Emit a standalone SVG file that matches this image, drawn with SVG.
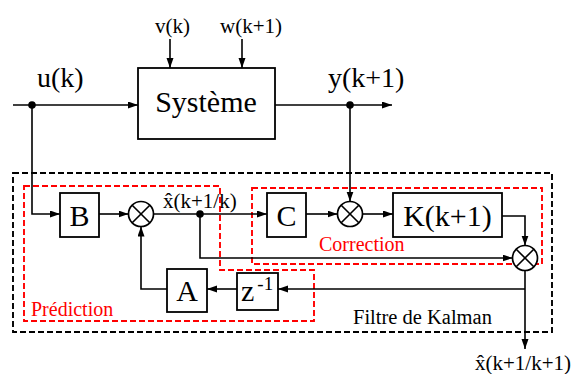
<svg xmlns="http://www.w3.org/2000/svg" width="576" height="374" viewBox="0 0 576 374" font-family="'Liberation Serif', 'DejaVu Serif', serif">
  <defs>
    <marker id="arr" markerUnits="userSpaceOnUse" markerWidth="11" markerHeight="8" refX="10" refY="3.5" orient="auto">
      <path d="M0,0 L10,3.5 L0,7 z" fill="#000"/>
    </marker>
  </defs>
  <style>
    text { font-family: 'Liberation Serif', 'DejaVu Serif', serif; fill: #000; }
    .box { fill: #fff; stroke: #000; stroke-width: 1.8; }
    .wire { fill: none; stroke: #000; stroke-width: 1.6; }
    .sum { fill: #fff; stroke: #000; stroke-width: 1.7; }
    .dot { fill: #000; }
    .big { font-size: 30px; text-anchor: middle; }
    .sig { font-size: 21px; }
    .frame { fill: none; stroke: #000; stroke-width: 1.9; stroke-dasharray: 6 3; }
    .zone { fill: none; stroke: #f00; stroke-width: 1.9; stroke-dasharray: 6 3; }
    .zlabel { font-size: 20px; fill: #f00; }
  </style>

  <rect width="576" height="374" fill="#fff"/>

  <!-- dashed frames -->
  <g id="frames">
    <rect class="frame" x="13" y="173" width="539" height="159"/>
    <path class="zone" d="M24,186 H220 V270 H314 V321 H24 Z"/>
    <rect class="zone" x="252" y="188" width="290" height="76"/>
  </g>

  <!-- connectors -->
  <g id="connectors">
    <path class="wire" d="M170,39 V68" marker-end="url(#arr)"/>
    <path class="wire" d="M242,39 V68" marker-end="url(#arr)"/>
    <path class="wire" d="M13,105 H138" marker-end="url(#arr)"/>
    <path class="wire" d="M275,105 H392" marker-end="url(#arr)"/>
    <path class="wire" d="M32,105 V214 H60" marker-end="url(#arr)"/>
    <path class="wire" d="M99,214 H128.5" marker-end="url(#arr)"/>
    <path class="wire" d="M153.5,214 H267" marker-end="url(#arr)"/>
    <path class="wire" d="M306,214 H337.5" marker-end="url(#arr)"/>
    <path class="wire" d="M350,105 V201.5" marker-end="url(#arr)"/>
    <path class="wire" d="M362.5,214 H393" marker-end="url(#arr)"/>
    <path class="wire" d="M502,216 H525 V245.5" marker-end="url(#arr)"/>
    <path class="wire" d="M200,214 V258 H512.5" marker-end="url(#arr)"/>
    <path class="wire" d="M525,270.5 V349" marker-end="url(#arr)"/>
    <path class="wire" d="M525,289 H278" marker-end="url(#arr)"/>
    <path class="wire" d="M237,289 H207" marker-end="url(#arr)"/>
    <path class="wire" d="M167,289 H141 V226.5" marker-end="url(#arr)"/>
    <circle class="dot" cx="32" cy="105" r="3.8"/>
    <circle class="dot" cx="350" cy="105" r="3.8"/>
    <circle class="dot" cx="200" cy="214" r="3.8"/>
  </g>

  <g id="systeme">
    <rect class="box" x="138" y="68" width="137" height="71"/>
    <text class="big" x="206" y="112">Système</text>
  </g>

  <g id="B">
    <rect class="box" x="60" y="193" width="39" height="44"/>
    <text class="big" x="79.5" y="226">B</text>
  </g>

  <g id="C">
    <rect class="box" x="267" y="193" width="39" height="44"/>
    <text class="big" x="286.5" y="226">C</text>
  </g>

  <g id="K">
    <rect class="box" x="393" y="193" width="109" height="44"/>
    <text class="big" x="447.5" y="226">K(k+1)</text>
  </g>

  <g id="A">
    <rect class="box" x="167" y="269" width="40" height="43"/>
    <text class="big" x="187" y="301">A</text>
  </g>

  <g id="retard">
    <rect class="box" x="237" y="273" width="41" height="37"/>
    <text x="241" y="301" font-size="30">z<tspan font-size="19" dx="3" dy="-11">-1</tspan></text>
  </g>

  <g id="sum1">
    <circle class="sum" cx="141" cy="214" r="12.5"/>
    <path class="wire" d="M132.2,205.2 L149.8,222.8 M149.8,205.2 L132.2,222.8"/>
  </g>

  <g id="sum2">
    <circle class="sum" cx="350" cy="214" r="12.5"/>
    <path class="wire" d="M341.2,205.2 L358.8,222.8 M358.8,205.2 L341.2,222.8"/>
  </g>

  <g id="sum3">
    <circle class="sum" cx="525" cy="258" r="12.5"/>
    <path class="wire" d="M516.2,249.2 L533.8,266.8 M533.8,249.2 L516.2,266.8"/>
  </g>

  <!-- signal labels -->
  <g id="labels">
    <text x="155" y="33" font-size="21">v(k)</text>
    <text x="220" y="33" font-size="21">w(k+1)</text>
    <text x="37" y="87" font-size="28">u(k)</text>
    <text x="328" y="87" font-size="28">y(k+1)</text>
    <text class="sig" x="163" y="208">x̂(k+1/k)</text>
    <text class="sig" x="475" y="370">x̂(k+1/k+1)</text>
    <text class="zlabel" x="31" y="316">Prédiction</text>
    <text class="zlabel" x="319" y="251">Correction</text>
    <text x="353" y="324" font-size="20.5">Filtre de Kalman</text>
  </g>
</svg>
